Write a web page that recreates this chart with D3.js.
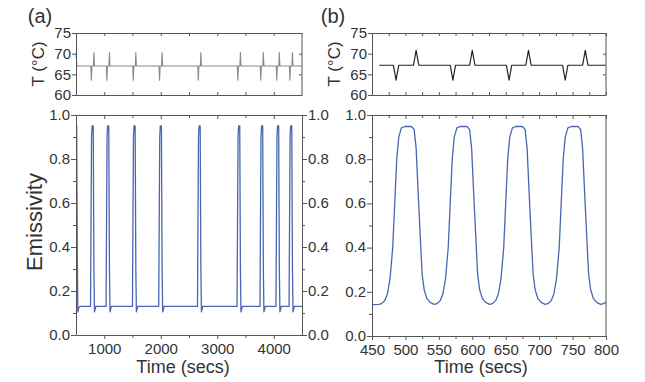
<!DOCTYPE html>
<html>
<head>
<meta charset="utf-8">
<script src="https://cdn.jsdelivr.net/npm/d3@7"></script>
<style>
  body { margin: 0; background: #fff; }
  text { font-family: "Liberation Sans", Arial, sans-serif; }
</style>
</head>
<body>
<svg id="chart" width="645" height="382"></svg>
<script>
// ---- data ----
// (a) long run: temperature spikes and emissivity pulses
var tempA = [
  [500, 69.0], [505, 70.3], [515, 67.0],
  [762, 67], [772, 63.6], [782, 67], [807, 67], [817, 70.3], [827, 67],
  [1037, 67], [1047, 63.6], [1057, 67], [1082, 67], [1092, 70.3], [1102, 67],
  [1504, 67], [1514, 63.6], [1524, 67], [1549, 67], [1559, 70.3], [1569, 67],
  [1969, 67], [1979, 63.6], [1989, 67], [2014, 67], [2024, 70.3], [2034, 67],
  [2655, 67], [2665, 63.6], [2675, 67], [2700, 67], [2710, 70.3], [2720, 67],
  [3355, 67], [3365, 63.6], [3375, 67], [3400, 67], [3410, 70.3], [3420, 67],
  [3761, 67], [3771, 63.6], [3781, 67], [3806, 67], [3816, 70.3], [3826, 67],
  [4044, 67], [4054, 63.6], [4064, 67], [4089, 67], [4099, 70.3], [4109, 67],
  [4276, 67], [4286, 63.6], [4296, 67], [4321, 67], [4331, 70.3], [4341, 67],
  [4500, 67]
];
var emisA = [
  [500, 0.95], [512, 0.95], [522, 0.4], [532, 0.105], [550, 0.125], [575, 0.13],
  [757, 0.13], [775, 0.9], [785, 0.95], [805, 0.95], [817, 0.3], [827, 0.105], [852, 0.13],
  [1032, 0.13], [1050, 0.9], [1060, 0.95], [1080, 0.95], [1092, 0.3], [1102, 0.105], [1127, 0.13],
  [1499, 0.13], [1517, 0.9], [1527, 0.95], [1547, 0.95], [1559, 0.3], [1569, 0.105], [1594, 0.13],
  [1964, 0.13], [1982, 0.9], [1992, 0.95], [2012, 0.95], [2024, 0.3], [2034, 0.105], [2059, 0.13],
  [2650, 0.13], [2668, 0.9], [2678, 0.95], [2698, 0.95], [2710, 0.3], [2720, 0.105], [2745, 0.13],
  [3350, 0.13], [3368, 0.9], [3378, 0.95], [3398, 0.95], [3410, 0.3], [3420, 0.105], [3445, 0.13],
  [3756, 0.13], [3774, 0.9], [3784, 0.95], [3804, 0.95], [3816, 0.3], [3826, 0.105], [3851, 0.13],
  [4039, 0.13], [4057, 0.9], [4067, 0.95], [4087, 0.95], [4099, 0.3], [4109, 0.105], [4134, 0.13],
  [4271, 0.13], [4289, 0.9], [4299, 0.95], [4319, 0.95], [4331, 0.3], [4341, 0.105], [4366, 0.13],
  [4500, 0.13]
];

// (b) zoom 450-800 s
var tempB = [
  [461, 67.2], [482, 67.2], [486, 63.6], [490, 67.2], [512, 67.2], [516, 70.8], [520, 67.2],
  [567, 67.2], [571, 63.6], [575, 67.2], [596, 67.2], [600, 70.8], [604, 67.2],
  [651, 67.2], [655, 63.6], [659, 67.2], [680, 67.2], [684, 70.8], [688, 67.2],
  [735, 67.2], [739, 63.6], [743, 67.2], [765, 67.2], [769, 70.8], [773, 67.2],
  [800, 67.2]
];
var emisB = [
  [450, 0.142], [460, 0.143], [464, 0.146], [469, 0.16], [473, 0.19], [477, 0.26], [481, 0.4],
  [484, 0.6], [487, 0.8], [490, 0.9], [494, 0.942], [499, 0.948], [509, 0.948], [513, 0.935],
  [516, 0.85], [519, 0.65], [523, 0.4], [525, 0.28], [528, 0.21], [532, 0.17], [537, 0.152], [543, 0.143],
  [547, 0.146], [552, 0.16], [556, 0.19], [560, 0.26], [564, 0.4], [567, 0.6], [570, 0.8], [573, 0.9],
  [577, 0.942], [582, 0.948], [592, 0.948], [596, 0.935], [599, 0.85], [602, 0.65], [606, 0.4],
  [608, 0.28], [611, 0.21], [615, 0.17], [620, 0.152], [626, 0.143],
  [630, 0.146], [635, 0.16], [639, 0.19], [643, 0.26], [647, 0.4], [650, 0.6], [653, 0.8], [656, 0.9],
  [660, 0.942], [665, 0.948], [675, 0.948], [679, 0.935], [682, 0.85], [685, 0.65], [689, 0.4],
  [691, 0.28], [694, 0.21], [698, 0.17], [703, 0.152], [709, 0.143],
  [713, 0.146], [718, 0.16], [722, 0.19], [726, 0.26], [730, 0.4], [733, 0.6], [736, 0.8], [739, 0.9],
  [743, 0.942], [748, 0.948], [758, 0.948], [762, 0.935], [765, 0.85], [768, 0.65], [772, 0.4],
  [774, 0.28], [777, 0.21], [781, 0.17], [786, 0.152], [792, 0.143], [796, 0.146], [800, 0.152]
];

// tick labels
var tTicks = [60, 65, 70, 75];
var eTicks = [0, 0.2, 0.4, 0.6, 0.8, 1.0];
var eMinor = [0.1, 0.3, 0.5, 0.7, 0.9];
var xTicksA = [1000, 2000, 3000, 4000];
var xMinorA = [1500, 2500, 3500];
var xTicksB = [450, 500, 550, 600, 650, 700, 750, 800];
var xMinorB = [475, 525, 575, 625, 675, 725, 775];

var svg = d3.select("#chart");
var axisCol = "#555", textCol = "#333";

function addAxis(axis, tx, ty, labels) {
  var g = svg.append("g")
    .attr("transform", "translate(" + tx + "," + ty + ")")
    .call(axis);
  g.attr("font-size", 15).attr("font-family", '"Liberation Sans", Arial, sans-serif');
  g.selectAll("path, line").attr("stroke", axisCol);
  g.selectAll("text").attr("fill", textCol);
  if (!labels) g.selectAll("text").remove();
  return g;
}
function noDomain(g) { g.select(".domain").remove(); }

function drawPanel(x, xMaj, xMin, yT, yE, showRight) {
  var x0 = x.range()[0], x1 = x.range()[1];
  var tTop = yT.range()[1], tBot = yT.range()[0];
  var eTop = yE.range()[1], eBot = yE.range()[0];
  var allX = xMaj.concat(xMin);
  var f1 = d3.format(".1f");

  // temperature box
  addAxis(d3.axisLeft(yT).tickValues(tTicks).tickSize(4).tickPadding(1), x0, 0, true);
  noDomain(addAxis(d3.axisRight(yT).tickValues(tTicks).tickSize(-3), x1, 0, false));
  svg.append("line").attr("x1", x1).attr("x2", x1).attr("y1", tTop).attr("y2", tBot).attr("stroke", axisCol);
  addAxis(d3.axisTop(x).tickValues(allX).tickSize(-3).tickSizeOuter(0), 0, tTop, false);
  addAxis(d3.axisBottom(x).tickValues(allX).tickSize(-3).tickSizeOuter(0), 0, tBot, false);

  // emissivity box
  var yl = addAxis(d3.axisLeft(yE).tickValues(eTicks).tickFormat(f1).tickSize(5).tickPadding(1).tickSizeOuter(0), x0, 0, true);
  yl.selectAll("text").attr("dy", "0.28em");
  noDomain(addAxis(d3.axisLeft(yE).tickValues(eMinor).tickSize(3), x0, 0, false));
  if (showRight) {
    var yr = addAxis(d3.axisRight(yE).tickValues(eTicks).tickFormat(f1).tickSize(5).tickPadding(1).tickSizeOuter(0), x1, 0, true);
    yr.selectAll("text").attr("dy", "0.28em");
    noDomain(addAxis(d3.axisRight(yE).tickValues(eMinor).tickSize(3), x1, 0, false));
  } else {
    svg.append("line").attr("x1", x1).attr("x2", x1).attr("y1", eTop).attr("y2", eBot).attr("stroke", axisCol);
  }
  addAxis(d3.axisTop(x).tickValues(xMaj).tickSize(-4).tickSizeOuter(0), 0, eTop, false);
  noDomain(addAxis(d3.axisTop(x).tickValues(xMin).tickSize(-3), 0, eTop, false));
  addAxis(d3.axisBottom(x).tickValues(xMaj).tickFormat(d3.format("d")).tickSize(4).tickPadding(4).tickSizeOuter(0), 0, eBot, true);
  noDomain(addAxis(d3.axisBottom(x).tickValues(xMin).tickSize(3), 0, eBot, false));
}

function drawLine(data, x, y, col, w) {
  svg.append("path").datum(data)
    .attr("fill", "none").attr("stroke", col).attr("stroke-width", w)
    .attr("stroke-linejoin", "round")
    .attr("d", d3.line().x(function(d) { return x(d[0]); }).y(function(d) { return y(d[1]); }));
}

// ---- panel (a) ----
var xA = d3.scaleLinear().domain([500, 4500]).range([76, 302]);
var yTA = d3.scaleLinear().domain([60, 75]).range([95, 33]);
var yEA = d3.scaleLinear().domain([0, 1]).range([335, 115]);
drawLine(tempA, xA, yTA, "#8a8a8a", 1.1);
drawLine(emisA, xA, yEA, "#4a66b2", 1.3);
drawPanel(xA, xTicksA, xMinorA, yTA, yEA, true);

// ---- panel (b) ----
var xB = d3.scaleLinear().domain([450, 800]).range([372, 606]);
var yTB = d3.scaleLinear().domain([60, 75]).range([95, 33]);
var yEB = d3.scaleLinear().domain([0, 1]).range([336, 115]);
drawLine(tempB, xB, yTB, "#222", 1.2);
drawLine(emisB, xB, yEB, "#4a66b2", 1.3);
drawPanel(xB, xTicksB, xMinorB, yTB, yEB, false);

// ---- titles ----
function label(txt, x, y, size, rot) {
  var t = svg.append("text").text(txt).attr("fill", textCol)
    .attr("font-size", size).attr("text-anchor", "middle");
  if (rot) t.attr("transform", "translate(" + x + "," + y + ") rotate(-90)");
  else t.attr("x", x).attr("y", y);
  return t;
}
label("(a)", 40, 23, 20);
label("(b)", 333, 23, 20);
label("T (\u00b0C)", 44, 64, 17, true);
label("T (\u00b0C)", 340, 64, 17, true);
label("Emissivity", 42, 222, 22, true);
label("Time (secs)", 183, 373, 18);
label("Time (secs)", 481, 373, 18);
</script>
</body>
</html>
